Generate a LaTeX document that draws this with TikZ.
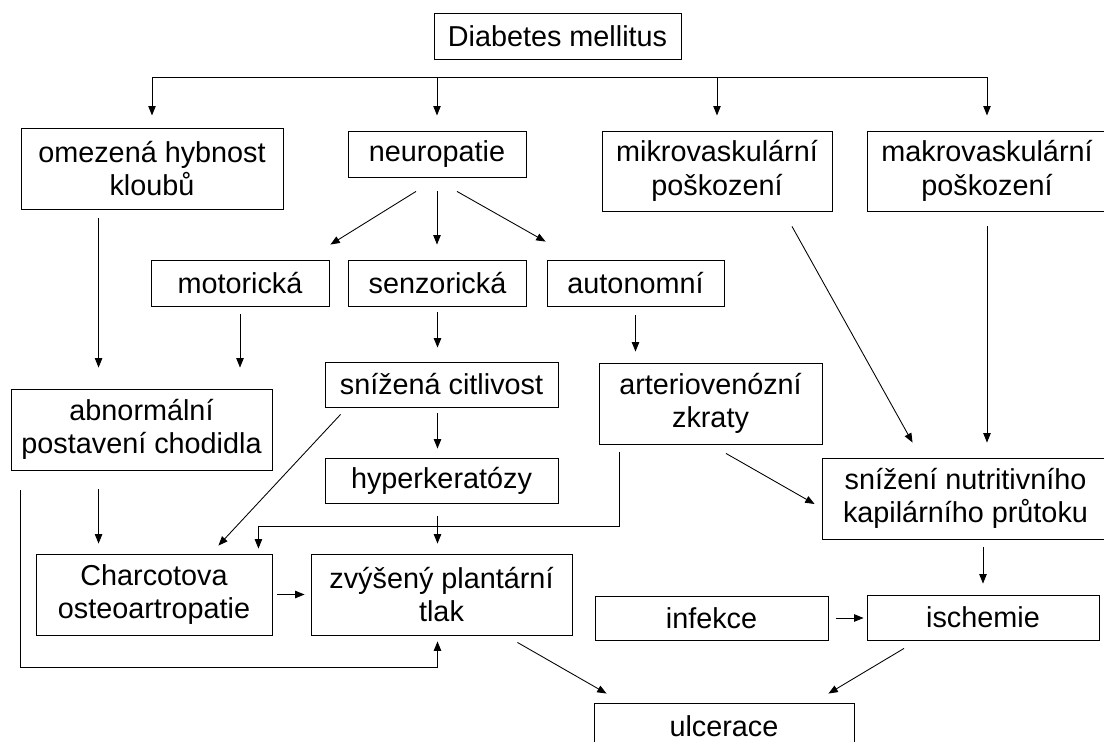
\documentclass[tikz,border=0pt]{standalone}
\usepackage{fontspec}
\setmainfont{Liberation Sans}
\usetikzlibrary{arrows.meta,calc}

\newcommand{\boxfont}{\fontsize{21.6}{25}\selectfont}
\tikzset{
  box/.style={draw, line width=0.65pt, align=center, inner sep=0pt, font=\boxfont},
  wh/.style 2 args={minimum width=#1*0.75pt, minimum height=#2*0.75pt},
  arr/.style={line width=0.65pt, -{Triangle[length=7pt,width=5.5pt]}},
}

\begin{document}
\begin{tikzpicture}[x=0.75pt,y=0.75pt,yscale=-1,xscale=1]
        \useasboundingbox (0,0) rectangle (1104,742);

        % Boxes, top row
        \node[box, wh={247}{46}] (dm) at (557.5,36) {Diabetes mellitus};
        \node[box, wh={262}{81}] (omez) at (152,168.5) {omezená hybnost\\kloubů};
        \node[box, wh={178}{46}] (neuro) at (437,154) {neuropatie};
        \node[box, wh={230}{80}] (mikro) at (717,171) {mikrovaskulární\\poškození};
        \node[box, wh={240}{80}] (makro) at (987,171) {makrovaskulární\\poškození};
        % Boxes, neuropatie types
        \node[box, wh={178}{46}] (motor) at (240,283) {motorická};
        \node[box, wh={178}{46}] (senz) at (437.5,283) {senzorická};
        \node[box, wh={177}{46}] (auto) at (635.5,283) {autonomní};
        % Boxes, middle
        \node[box, wh={261}{81}] (abn) at (141.5,429.5) {abnormální\\postavení chodidla};
        \node[box, wh={233}{45}] (citl) at (441.5,384.5) {snížená citlivost};
        \node[box, wh={223}{81}] (av) at (710.5,403.5) {arteriovenózní\\zkraty};
        \node[box, wh={233}{45}] (hyper) at (441.5,480.5) {hyperkeratózy};
        \node[box, wh={287}{81}] (nutr) at (965.5,498.5) {snížení nutritivního\\kapilárního průtoku};
        % Boxes, bottom
        \node[box, wh={236}{81}] (charc) at (154,594.5) {Charcotova\\osteoartropatie};
        \node[box, wh={261}{81}] (tlak) at (441.5,594.5) {zvýšený plantární\\tlak};
        \node[box, wh={233}{44}] (inf) at (711.5,618) {infekce};
        \node[box, wh={232}{45}] (isch) at (983,617.5) {ischemie};
        \node[box, wh={260}{46}] (ulc) at (724,726) {ulcerace};

        % Bus under Diabetes mellitus
        \coordinate (bus) at ($(dm.south)+(0,18)$);
        \draw[line width=0.65pt] (bus -| omez.north) -- (bus -| makro.north);
        \foreach \n in {omez,neuro,mikro,makro}
          \draw[arr] (bus -| \n.north) -- ++(0,38);

        % neuropatie split
        \draw[arr] ($(neuro.south)+(-21,14)$) -- ($(motor.north east)+(1,-15)$);
        \draw[arr, shorten <=10.5pt, shorten >=11.25pt] (neuro.south) -- (neuro.south |- senz.north);
        \draw[arr] ($(neuro.south)+(20,14)$) -- ($(auto.north west)+(-1,-18)$);

        % Straight down
        \draw[arr] ($(omez.south west)+(78,9)$) -- ($(abn.north west)+(88,-21)$);
        \draw[arr, shorten <=6pt, shorten >=15.75pt] (motor.south) -- (motor.south |- abn.north);
        \draw[arr, shorten <=4.5pt, shorten >=10.5pt] (senz.south) -- (senz.south |- citl.north);
        \draw[arr, shorten <=6.75pt, shorten >=8.25pt] (auto.south) -- (auto.south |- av.north);
        \draw[arr, shorten <=4.5pt, shorten >=6.75pt] (senz.south |- citl.south) -- (senz.south |- hyper.north);
        \draw[arr, shorten <=9.75pt, shorten >=7.5pt] (senz.south |- hyper.south) -- (senz.south |- tlak.north);
        \draw[arr] ($(abn.south west)+(88,19)$) -- ($(charc.north west)+(63,-10)$);
        \draw[arr, shorten <=11.25pt, shorten >=11.25pt] (makro.south) -- (makro.south |- nutr.north);
        \draw[arr, shorten <=6pt, shorten >=8.25pt] (isch.north |- nutr.south) -- (isch.north);

        % Slanted
        \draw[arr] ($(mikro.south)+(75,15)$) -- ($(nutr.north west)+(91,-15)$);
        \draw[arr] ($(citl.south west)+(16,7)$) -- ($(charc.north east)+(-54,-8)$);
        \draw[arr] ($(av.south)+(15.5,9)$) -- ($(nutr.west)+(-7,5.5)$);
        \draw[arr] ($(tlak.south east)+(-55,7)$) -- ($(ulc.north west)+(13,-9)$);
        \draw[arr] ($(isch.south)+(-79,8)$) -- ($(ulc.north east)+(-26,-9)$);

        % Sideways
        \draw[arr, shorten <=3.75pt, shorten >=4.5pt] (charc.east) -- (charc.east -| tlak.west);
        \draw[arr, shorten <=6pt, shorten >=2.25pt] (inf.east) -- (inf.east -| isch.west);

        % Elbows
        \draw[arr] ($(av.south west)+(21,8)$) |- ($(charc.north east)+(-14,-27)$) -- ($(charc.north east)+(-14,-5)$);
        \draw[arr] ($(abn.south west)+(10,20)$) -- ++(0,177) -| ($(tlak.south)+(-4,6)$);

\end{tikzpicture}
\end{document}
